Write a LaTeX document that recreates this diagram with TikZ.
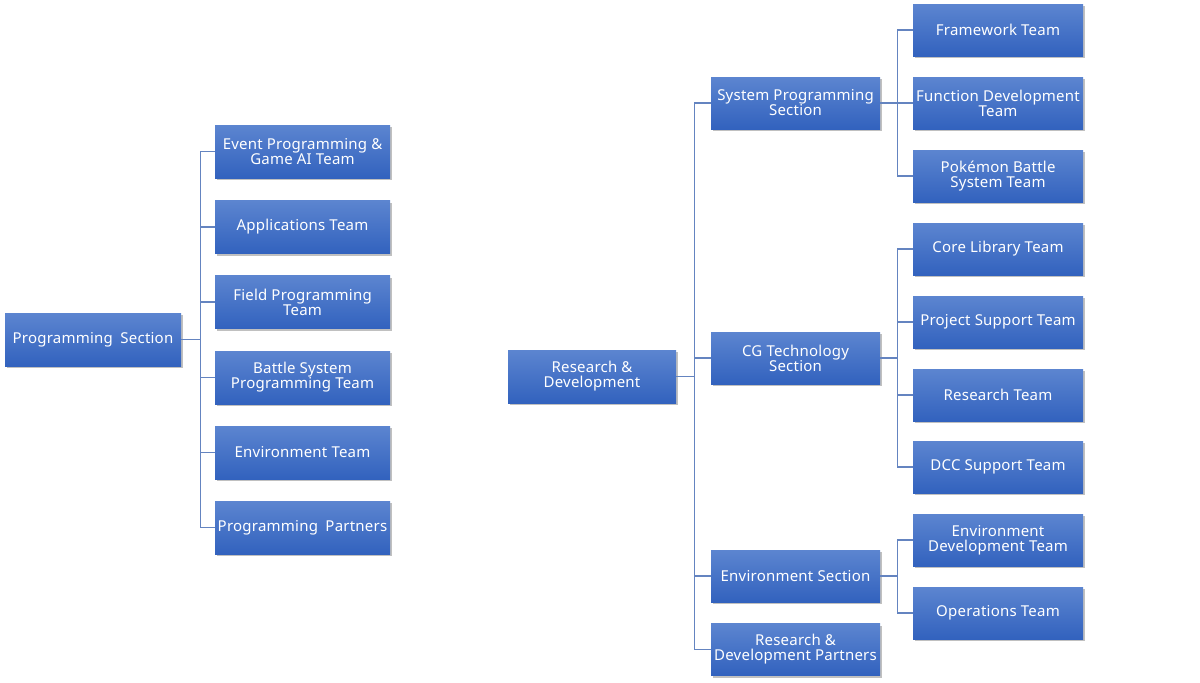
\documentclass[tikz,border=0pt]{standalone}
\usepackage{fontspec}
\setmainfont{Noto Sans}[LetterSpace=1.5]
\usetikzlibrary{shadows}
\definecolor{boxtop}{RGB}{92,133,208}
\definecolor{boxbot}{RGB}{50,98,190}
\definecolor{linec}{RGB}{100,132,192}
\tikzset{
  orgbox/.style={rectangle, top color=boxtop, bottom color=boxbot, draw=none,
    text=white, align=center, inner sep=1pt,
    font=\fontsize{15}{15}\selectfont,
    drop shadow={shadow xshift=1.5pt, shadow yshift=-2pt, opacity=0.35, fill=black!70}},
  conn/.style={draw=linec, line width=1.2pt}
}
\begin{document}
\begin{tikzpicture}[x=1pt,y=1pt]
\useasboundingbox (0,0) rectangle (1200,-683);
\fill[white] (0,0) rectangle (1200,-683);
% left tree
\node[orgbox, minimum width=176pt, minimum height=53pt] (ps) at (93,-339.5) {Programming\hspace{0.5em}Section};
\foreach \n/\y/\t in {e/151.5/{Event Programming \&\\Game AI Team},
                      a/227/{Applications Team},
                      f/302/{Field Programming\\Team},
                      b/377.5/{Battle System\\Programming Team},
                      v/452.5/{Environment Team},
                      p/527.5/{Programming\hspace{0.5em}Partners}}{
  \node[orgbox, minimum width=175pt, minimum height=53pt] (l\n) at (302.5,-\y) {\t};
  \draw[conn] (ps.east) -- ++(19,0) |- (l\n.west);
}
% right tree
\node[orgbox, minimum width=168pt, minimum height=53pt] (rd) at (592,-376.5) {Research \&\\Development};
\foreach \n/\y/\t in {sp/103/{System Programming\\Section},
                      cg/358/{CG Technology\\Section},
                      es/576/{Environment Section},
                      rp/649.5/{Research \&\\Development Partners}}{
  \node[orgbox, minimum width=169pt, minimum height=52pt] (\n) at (795.5,-\y) {\t};
  \draw[conn] (rd.east) -- ++(18,0) |- (\n.west);
}
\foreach \n/\y/\pa/\t in {fw/30/sp/{Framework Team},
                      fd/103/sp/{Function Development\\Team},
                      pb/176/sp/{Pokémon Battle\\System Team},
                      cl/249/cg/{Core Library Team},
                      ps2/322/cg/{Project Support Team},
                      rt/395/cg/{Research Team},
                      dc/467/cg/{DCC Support Team},
                      ed/540/es/{Environment\\Development Team},
                      ot/613/es/{Operations Team}}{
  \node[orgbox, minimum width=170pt, minimum height=52pt] (\n) at (998,-\y) {\t};
  \draw[conn] (\pa.east) -- ++(17,0) |- (\n.west);
}
\end{tikzpicture}
\end{document}
